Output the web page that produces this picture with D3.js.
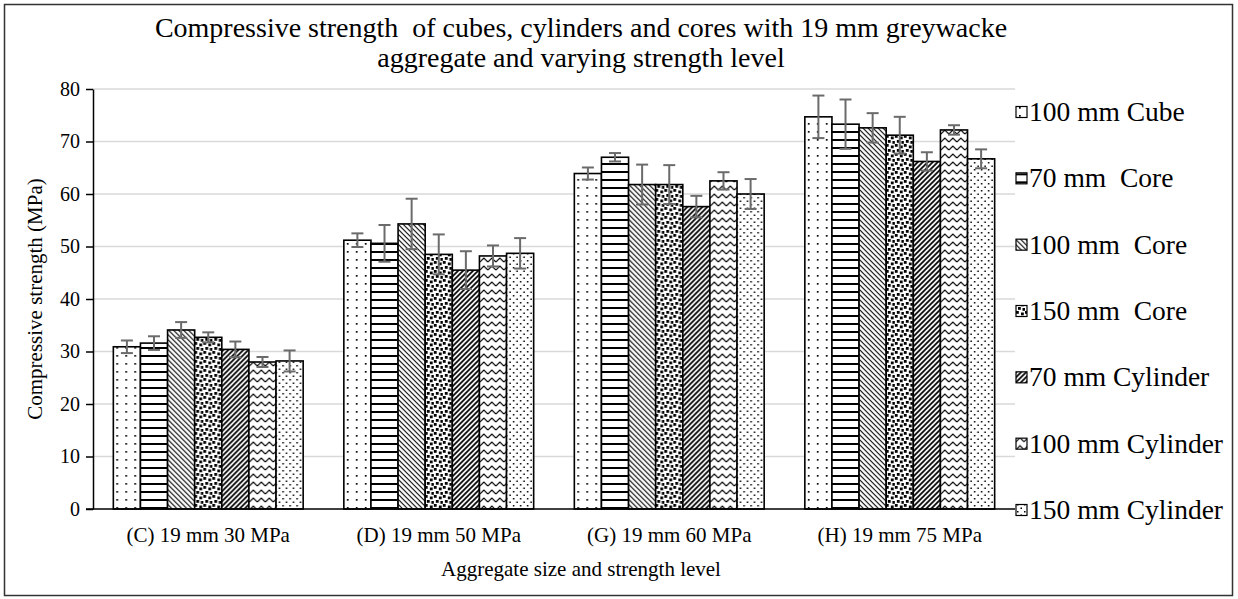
<!DOCTYPE html>
<html>
<head>
<meta charset="utf-8">
<script src="https://cdn.jsdelivr.net/npm/d3@7"></script>
<style>
  body { margin: 0; background: #fff; }
  text { font-family: "Liberation Serif", "Times New Roman", Times, "DejaVu Serif", serif; fill: #000; }
</style>
</head>
<body>
<div id="chart"></div>
<script>
// Data
var categories = ["(C) 19 mm 30 MPa", "(D) 19 mm 50 MPa", "(G) 19 mm 60 MPa", "(H) 19 mm 75 MPa"];
var series = ["100 mm Cube", "70 mm  Core", "100 mm  Core", "150 mm  Core", "70 mm Cylinder", "100 mm Cylinder", "150 mm Cylinder"];
// one array per series, values per category
var cube100 = [30.9, 51.2, 63.9, 74.7];
var core70  = [31.6, 50.6, 67.0, 73.3];
var core100 = [34.1, 54.3, 61.8, 72.6];
var core150 = [32.7, 48.5, 61.8, 71.2];
var cyl70   = [30.4, 45.5, 57.6, 66.2];
var cyl100  = [28.0, 48.2, 62.5, 72.2];
var cyl150  = [28.2, 48.7, 60.0, 66.7];
// error bar half-widths
var errCube100 = [1.2, 1.3, 1.15, 4.05];
var errCore70  = [1.3, 3.5, 0.8, 4.7];
var errCore100 = [1.5, 4.8, 3.8, 2.8];
var errCore150 = [0.95, 3.8, 3.7, 3.5];
var errCyl70   = [1.5, 3.6, 2.05, 1.75];
var errCyl100  = [0.95, 2.0, 1.65, 0.9];
var errCyl150  = [2.0, 2.9, 2.85, 1.8];
var yTicks = [0, 10, 20, 30, 40, 50, 60, 70, 80];

var values = [cube100, core70, core100, core150, cyl70, cyl100, cyl150];
var errors = [errCube100, errCore70, errCore100, errCore150, errCyl70, errCyl100, errCyl150];

var width = 1238, height = 599;
var plot = {left: 93, right: 1015, top: 89, bottom: 509};

var svg = d3.select("#chart").append("svg")
    .attr("width", width)
    .attr("height", height);

// Pattern fills, black on white
var defs = svg.append("defs");
function pattern(id, w, h) {
    var p = defs.append("pattern")
        .attr("id", id)
        .attr("patternUnits", "userSpaceOnUse")
        .attr("width", w)
        .attr("height", h);
    p.append("rect").attr("width", w).attr("height", h).attr("fill", "#fff");
    return p;
}
function dots(p, pts, s) {
    pts.forEach(d => p.append("rect").attr("x", d[0]).attr("y", d[1]).attr("width", s).attr("height", s).attr("fill", "#000"));
}
// sparse dots (cube)
dots(pattern("p0", 9, 8), [[3, 3]], 1.7);
// horizontal lines
var p1 = pattern("p1", 8, 8);
p1.append("rect").attr("x", 0).attr("y", 3).attr("width", 8).attr("height", 2).attr("fill", "#000");
// downward diagonal
var p2 = pattern("p2", 5, 5);
p2.append("path").attr("d", "M-1,-1L6,6M-1,4L1,6M4,-1L6,1").attr("stroke", "#000").attr("stroke-width", 1.1);
// confetti
dots(pattern("p3", 9, 9), [[0, 0], [5, 1.5], [2, 5], [6.5, 6]], 2.8);
// upward diagonal, bold
var p4 = pattern("p4", 5, 5);
p4.append("path").attr("d", "M-1,6L6,-1M-1,1L1,-1M4,6L6,4").attr("stroke", "#000").attr("stroke-width", 1.7);
// zigzag
var p5 = pattern("p5", 8, 8);
p5.append("path").attr("d", "M0,6L4,2L8,6").attr("fill", "none").attr("stroke", "#000").attr("stroke-width", 1.1);
// staggered dots
dots(pattern("p6", 7, 7), [[1, 1], [4.5, 4.5]], 1.5);

var fills = series.map((s, i) => "url(#p" + i + ")");

// Outer border
svg.append("rect")
    .attr("x", 4.5).attr("y", 4.5)
    .attr("width", 1228).attr("height", 591)
    .attr("fill", "none")
    .attr("stroke", "#333")
    .attr("stroke-width", 1.5);

// Scales
var x0 = d3.scaleBand()
    .domain(categories)
    .range([plot.left, plot.right])
    .paddingInner(1.5 / 8.5)
    .paddingOuter(0.75 / 8.5);
var x1 = d3.scaleBand()
    .domain(d3.range(series.length))
    .range([0, x0.bandwidth()]);
var y = d3.scaleLinear()
    .domain([0, 80])
    .range([plot.bottom, plot.top]);

// Gridlines
svg.append("g")
    .selectAll("line")
    .data(yTicks.slice(1))
    .join("line")
        .attr("x1", plot.left).attr("x2", plot.right)
        .attr("y1", d => y(d)).attr("y2", d => y(d))
        .attr("stroke", "#d9d9d9")
        .attr("stroke-width", 1.5);

// Y axis
svg.append("g")
    .attr("transform", "translate(" + plot.left + ",0)")
    .call(d3.axisLeft(y).tickValues(yTicks).tickSize(7).tickSizeOuter(0).tickPadding(6))
    .call(g => g.selectAll("path, line").attr("stroke", "#000").attr("stroke-width", 1.5))
    .call(g => g.selectAll("text").attr("font-size", 20));

// Bars
var groups = svg.append("g")
    .selectAll("g")
    .data(categories)
    .join("g")
        .attr("transform", d => "translate(" + x0(d) + ",0)");

groups.selectAll("rect")
    .data((c, ci) => series.map((s, si) => ({si: si, v: values[si][ci], e: errors[si][ci]})))
    .join("rect")
        .attr("x", d => x1(d.si))
        .attr("y", d => y(d.v))
        .attr("width", x1.bandwidth())
        .attr("height", d => y(0) - y(d.v))
        .attr("fill", d => fills[d.si])
        .attr("stroke", "#000")
        .attr("stroke-width", 1.6);

// Error bars
var eb = groups.selectAll("g.err")
    .data((c, ci) => series.map((s, si) => ({si: si, v: values[si][ci], e: errors[si][ci]})))
    .join("g")
        .attr("class", "err")
        .attr("stroke", "#6b6b6b")
        .attr("stroke-width", 2);
eb.append("line")
    .attr("x1", d => x1(d.si) + x1.bandwidth() / 2)
    .attr("x2", d => x1(d.si) + x1.bandwidth() / 2)
    .attr("y1", d => y(d.v + d.e))
    .attr("y2", d => y(d.v - d.e));
eb.selectAll("line.cap")
    .data(d => [d.v + d.e, d.v - d.e].map(v => ({si: d.si, v: v})))
    .join("line")
        .attr("class", "cap")
        .attr("x1", d => x1(d.si) + x1.bandwidth() / 2 - 6)
        .attr("x2", d => x1(d.si) + x1.bandwidth() / 2 + 6)
        .attr("y1", d => y(d.v))
        .attr("y2", d => y(d.v));

// X axis line
svg.append("line")
    .attr("x1", plot.left - 7).attr("x2", plot.right)
    .attr("y1", y(0)).attr("y2", y(0))
    .attr("stroke", "#000")
    .attr("stroke-width", 1.5);

// Category labels
svg.append("g")
    .selectAll("text")
    .data(categories)
    .join("text")
        .attr("x", d => x0(d) + x0.bandwidth() / 2)
        .attr("y", y(0) + 33)
        .attr("text-anchor", "middle")
        .attr("font-size", 21)
        .text(d => d);

// Titles
svg.append("text")
    .attr("x", 581).attr("y", 37)
    .attr("text-anchor", "middle")
    .attr("font-size", 28)
    .style("white-space", "pre")
    .text("Compressive strength  of cubes, cylinders and cores with 19 mm greywacke");
svg.append("text")
    .attr("x", 581).attr("y", 67)
    .attr("text-anchor", "middle")
    .attr("font-size", 28)
    .text("aggregate and varying strength level");

svg.append("text")
    .attr("x", 581).attr("y", 576)
    .attr("text-anchor", "middle")
    .attr("font-size", 21)
    .text("Aggregate size and strength level");

svg.append("text")
    .attr("transform", "translate(42," + ((plot.top + plot.bottom) / 2) + ") rotate(-90)")
    .attr("text-anchor", "middle")
    .attr("font-size", 21)
    .text("Compressive strength (MPa)");

// Legend
var ly = d3.scalePoint().domain(series).range([112, 510]);
var legend = svg.append("g")
    .selectAll("g")
    .data(series)
    .join("g")
        .attr("transform", d => "translate(1016," + ly(d) + ")");
legend.append("rect")
    .attr("x", 0).attr("y", -5.5)
    .attr("width", 11).attr("height", 11)
    .attr("fill", (d, i) => fills[i])
    .attr("stroke", "#000")
    .attr("stroke-width", 1.2);
legend.append("text")
    .attr("x", 13)
    .attr("y", 9)
    .attr("font-size", 27.5)
    .style("white-space", "pre")
    .text(d => d);
</script>
</body>
</html>
